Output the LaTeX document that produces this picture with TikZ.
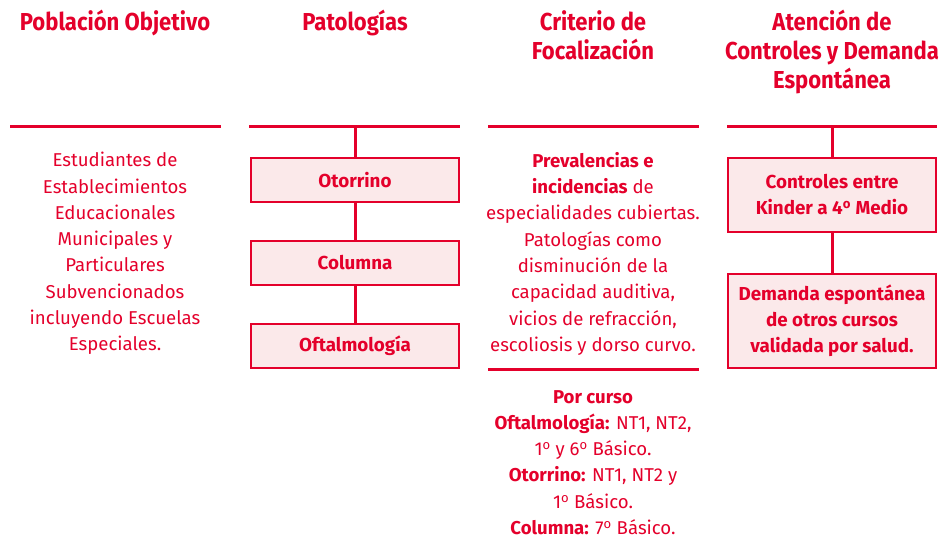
\documentclass[tikz,border=0pt]{standalone}
\usepackage{fontspec}
\setmainfont{Fira Sans}
\newfontfamily\headfont{Fira Sans}[FakeStretch=0.9]
\definecolor{rojo}{RGB}{228, 0, 43}
\definecolor{rosa}{RGB}{251, 233, 234}
\newcommand*\ord{\textsuperscript{o}}

\tikzset{
    titulo/.style={text=rojo, align=center, anchor=north, inner sep=0pt,
        font=\headfont\bfseries\fontsize{24.5}{29}\selectfont},
    texto/.style={text=rojo, align=center, anchor=north, inner sep=0pt,
        font=\fontsize{18.6}{26.3}\selectfont},
    caja/.style={draw=rojo, line width=2.6pt, fill=rosa, text=rojo, align=center,
        minimum width=208pt, inner sep=0pt,
        font=\bfseries\fontsize{18.8}{26}\selectfont},
    raya/.style={draw=rojo, line width=3pt},
}

\begin{document}
\begin{tikzpicture}[x=1pt, y=-1pt]
    \useasboundingbox (0,0) rectangle (945,537);

    % Titulos
    \node[titulo] (t1) at (115, 10) {Población Objetivo};
    \node[titulo] (t2) at (355, 10) {Patologías};
    \node[titulo] (t3) at (593, 10) {Criterio de\\Focalización};
    \node[titulo] (t4) at (832, 10) {Atención de\\Controles y Demanda\\Espontánea};

    % Rayas
    \draw[raya] (10, 127) -- (221, 127);
    \draw[raya] (249, 127) -- (460, 127);
    \draw[raya] (488, 127) -- (699, 127);
    \draw[raya] (727, 127) -- (937, 127);
    \draw[raya] (488, 369) -- (699, 369);
    \coordinate (r2) at (355, 127);
    \coordinate (r4) at (832, 127);

    % Poblacion
    \node[texto] (pob) at (115, 152) {Estudiantes de\\Establecimientos\\Educacionales\\Municipales y\\Particulares\\Subvencionados\\incluyendo Escuelas\\Especiales.};

    % Patologias
    \node[caja, minimum height=44pt] (oto) at (355, 180) {Otorrino};
    \node[caja, minimum height=44pt] (col) at (355, 263) {Columna};
    \node[caja, minimum height=44pt] (oft) at (355, 346) {Oftalmología};
    \draw[raya] (r2) -- (oto);
    \draw[raya] (oto) -- (col);
    \draw[raya] (col) -- (oft);

    % Criterio
    \node[texto] (crit) at (593, 152) {\textbf{Prevalencias e}\\\textbf{incidencias} de\\especialidades cubiertas.\\Patologías como\\disminución de la\\capacidad auditiva,\\vicios de refracción,\\escoliosis y dorso curvo.};
    \node[texto] (curso) at (593, 390) {\textbf{Por curso}\\\textbf{Oftalmología:} NT1, NT2,\\1\ord{} y 6\ord{} Básico.\\\textbf{Otorrino:} NT1, NT2 y\\1\ord{} Básico.\\\textbf{Columna:} 7\ord{} Básico.};

    % Atencion
    \node[caja, minimum height=74pt] (ctrl) at (832, 195) {Controles entre\\Kinder a 4\ord{} Medio};
    \node[caja, minimum height=94pt] (dem) at (832, 321) {Demanda espontánea\\de otros cursos\\validada por salud.};
    \draw[raya] (r4) -- (ctrl);
    \draw[raya] (ctrl) -- (dem);
\end{tikzpicture}
\end{document}
